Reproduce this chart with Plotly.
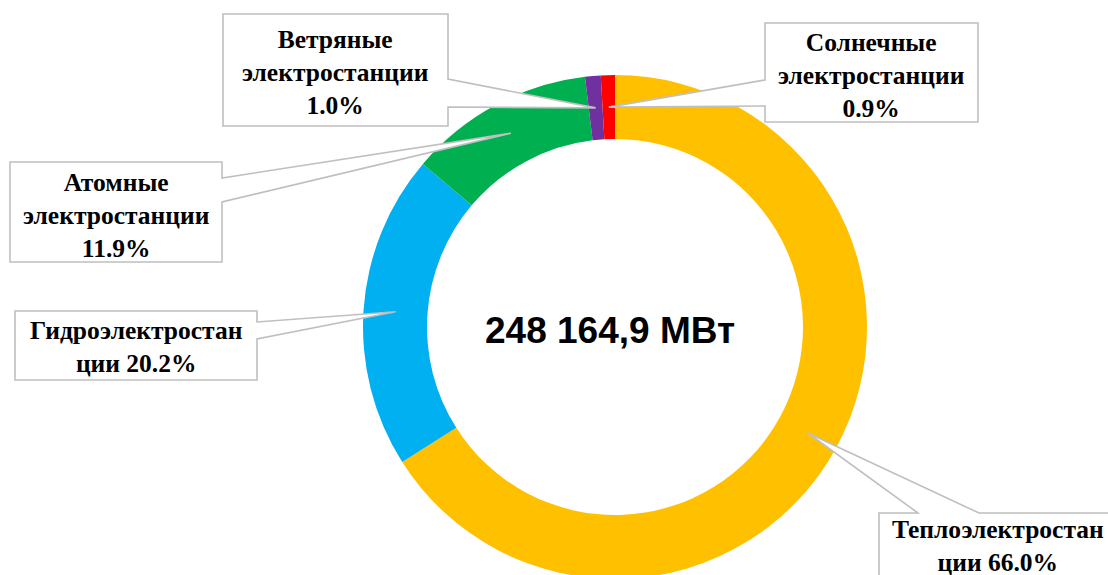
import math
import plotly.graph_objects as go

# ---------------- data ----------------
categories = ["Теплоэлектростанции", "Гидроэлектростанции", "Атомные электростанции",
              "Ветряные электростанции", "Солнечные электростанции"]
shares = [66.0, 20.2, 11.9, 1.0, 0.9]
colors = ["#FFC000", "#00B0F0", "#00B050", "#7030A0", "#FF0000"]
label_names = ["Теплоэлектростан<br>ции", "Гидроэлектростан<br>ции", "Атомные<br>электростанции",
               "Ветряные<br>электростанции", "Солнечные<br>электростанции"]
label_seps = [" ", " ", "<br>", "<br>", "<br>"]
total_text = "248 164,9 МВт"

# ---------------- layout (pixels) ----------------
W, H = 1140, 630
CX, CY, R_OUT, R_IN = 615, 327, 252, 188

def px(x):
    return x / W

def py(y):
    return 1 - y / H

# callout boxes: (x0, y0, x1, y1, side, a, b)
boxes = [
    (879, 513, 1118, 590, "top", 918, 979),
    (15, 311, 257, 380, "right", 322, 339),
    (10, 162, 222, 262, "right", 178, 202),
    (223, 14, 448, 126, "right", 79, 107),
    (765, 23, 978, 122, "left", 80, 106),
]
text_centers = [(998, 546), (136, 347), (116, 215), (335, 72), (871, 75)]

fig = go.Figure()
fig.add_trace(go.Pie(
    labels=categories, values=shares, sort=False, direction="clockwise", rotation=0,
    hole=R_IN / R_OUT, marker=dict(colors=colors, line=dict(width=0)),
    textinfo="none", hoverinfo="label+percent", showlegend=False,
    domain=dict(x=[px(CX - R_OUT), px(CX + R_OUT)], y=[py(CY + R_OUT), py(CY - R_OUT)]),
))

total = sum(shares)
cum = 0.0
shapes = []
annotations = []
rm = (R_OUT + R_IN) / 2
for i, v in enumerate(shares):
    mid = (cum + v / 2) / total * 2 * math.pi
    cum += v
    tx = CX + rm * math.sin(mid)
    ty = CY - rm * math.cos(mid)
    x0, y0, x1, y1, side, a, b = boxes[i]
    if side == "right":
        pts = [(x0, y0), (x1, y0), (x1, a), (tx, ty), (x1, b), (x1, y1), (x0, y1)]
    elif side == "left":
        pts = [(x0, y0), (x1, y0), (x1, y1), (x0, y1), (x0, b), (tx, ty), (x0, a)]
    else:
        pts = [(x0, y0), (a, y0), (tx, ty), (b, y0), (x1, y0), (x1, y1), (x0, y1)]
    path = "M " + " L ".join(f"{px(x):.5f},{py(y):.5f}" for x, y in pts) + " Z"
    shapes.append(dict(type="path", xref="paper", yref="paper", path=path,
                       fillcolor="white", line=dict(color="#BFBFBF", width=1.6), layer="above"))
    cxl, cyl = text_centers[i]
    annotations.append(dict(
        x=px(cxl), y=py(cyl), xref="paper", yref="paper", showarrow=False,
        text=f"<b>{label_names[i]}{label_seps[i]}{v:.1f}%</b>",
        font=dict(family="Liberation Serif", size=25.5, color="black"),
        xanchor="center", yanchor="middle", align="center",
    ))

annotations.append(dict(
    x=px(CX - 5), y=py(330), xref="paper", yref="paper", showarrow=False,
    text=f"<b>{total_text}</b>", font=dict(family="Liberation Sans", size=37, color="black"),
    xanchor="center", yanchor="middle",
))

fig.update_layout(
    width=W, height=H, margin=dict(l=0, r=0, t=0, b=0),
    paper_bgcolor="white", plot_bgcolor="white",
    shapes=shapes, annotations=annotations,
)

fig.write_html("out.html", config={"displayModeBar": False},
               post_script="document.body.style.margin='0';document.body.style.overflow='hidden';")
